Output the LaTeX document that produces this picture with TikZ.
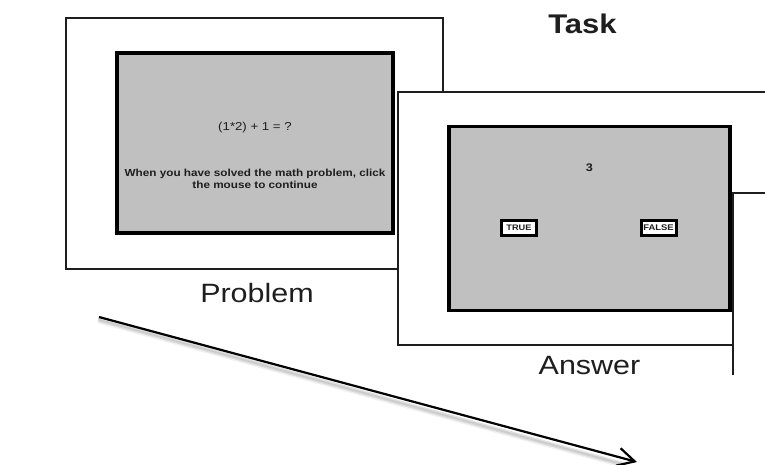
\documentclass[tikz,border=0pt]{standalone}
\usepackage{fontspec}
\setmainfont{Liberation Sans}[FakeStretch=1.15]
\usetikzlibrary{arrows.meta}
\definecolor{screengray}{HTML}{C0C0C0}
\definecolor{ink}{HTML}{1E1E1E}
\tikzset{
  slideframe/.style={draw=ink, line width=1.5pt, fill=white, anchor=north west, inner sep=0pt, outer sep=0pt},
  screen/.style={draw=black, line width=3.5pt, fill=screengray, anchor=north west, inner sep=0pt, outer sep=0pt},
  choicebtn/.style={draw=black, line width=3pt, fill=white, minimum width=35pt, minimum height=15pt, inner sep=0pt,
    font=\fontsize{8}{9}\selectfont\bfseries, text=ink},
  caption/.style={anchor=base, inner sep=0pt, text=ink, font=\fontsize{26.5}{30}\selectfont},
  flow/.style={line width=2.2pt, -{Straight Barb[length=17pt, width=18pt, line width=2.2pt]}},
}
\begin{document}
\begin{tikzpicture}[x=1pt, y=-1pt]
\useasboundingbox (0,0) rectangle (765,464);

% heading
\node[anchor=base, inner sep=0pt, text=ink, font=\fontsize{27}{30}\selectfont\bfseries] (task) at (582.5,33) {Task};

% problem slide
\node[slideframe, minimum width=377pt, minimum height=251pt] (pframe) at (66,18) {};
\node[screen, minimum width=276pt, minimum height=180pt] (pscreen) at (117,53) {};
\node[anchor=base, inner sep=0pt, text=ink, font=\fontsize{11.5}{13}\selectfont] (eq) at (255,130) {(1*2) + 1 = ?};
\node[anchor=base, inner sep=0pt, text=ink, align=center, font=\fontsize{10.2}{12}\selectfont\bfseries] (instr) at (255,188)
  {When you have solved the math problem, click\\the mouse to continue};
\node[caption] (plabel) at (257,302) {Problem};

% answer slide
\node[slideframe, minimum width=420pt, minimum height=253pt] (aframe) at (398,92) {};
\node[screen, minimum width=281pt, minimum height=184pt] (ascreen) at (449,126.5) {};
\node[anchor=base, inner sep=0pt, text=ink, font=\fontsize{11}{12}\selectfont\bfseries] (ans) at (589.5,171) {3};
\node[choicebtn] (btrue) at (519,228) {TRUE};
\node[choicebtn, font=\fontsize{8.2}{9}\selectfont\bfseries] (bfalse) at (658.5,228) {FALSE};

\begin{scope}
  \clip (0,0) rectangle (765,374);
  % next slide, mostly out of view
  \node[slideframe, minimum width=100pt, minimum height=250pt] (nframe) at (733,193) {};
  \node[caption] (alabel) at (589.5,374) {Answer};
\end{scope}

% time arrow with a soft shadow
\coordinate (tstart) at (99,317);
\coordinate (tend) at (637,462);
\foreach \d/\o in {2/0.12, 3.5/0.09, 5/0.06} {
  \draw[line width=3pt, black, opacity=\o, line cap=round] ([yshift=-\d pt]tstart) -- ([yshift=-\d pt, xshift=-12pt]tend);
}
\draw[flow] (tstart) -- (tend);
\end{tikzpicture}
\end{document}
